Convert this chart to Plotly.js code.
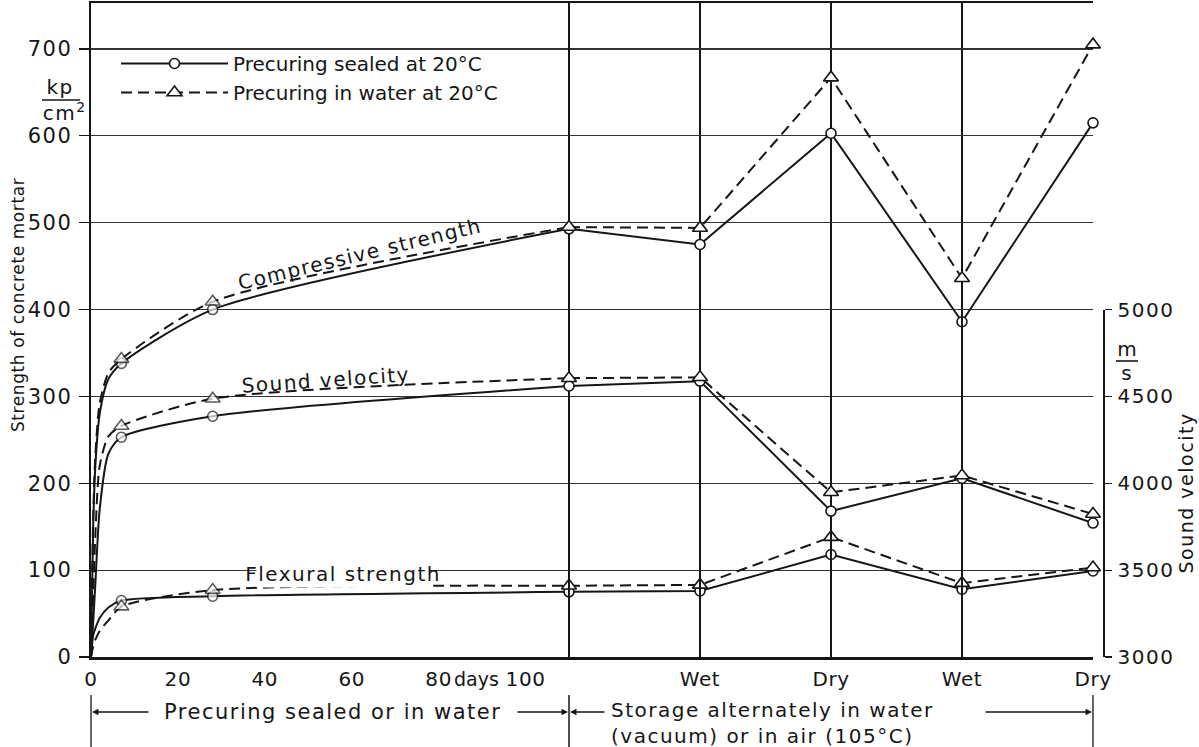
<!DOCTYPE html>
<html>
<head>
<meta charset="utf-8">
<script src="https://cdn.plot.ly/plotly-3.0.1.min.js"></script>
<style>
html,body{margin:0;padding:0;background:#fff;}
#chart{width:1199px;height:747px;}
#chart svg text{letter-spacing:1.5px;}
#chart .legend text{letter-spacing:0;}
#chart .xtick text, #chart .x2tick text{letter-spacing:0.6px;}
#chart .annotation[data-index="0"] text{letter-spacing:0.6px;}
#chart .annotation[data-index="6"] text{letter-spacing:0;}
</style>
</head>
<body>
<div id="chart"></div>
<script>
// ---------- data ----------
// Precuring phase (age in days)
const days = [0, 0.5, 1, 2, 4, 7, 28, 110];
const measuredDays = [7, 28];
const compSealedPre  = [0, 150, 220, 280, 320, 338, 400, 493];
const compWaterPre   = [0, 160, 232, 292, 327, 343, 409, 495];
const soundSealedPre = [3000, 3200, 3420, 3850, 4170, 4265, 4386, 4560];
const soundWaterPre  = [3000, 3350, 3700, 4100, 4270, 4330, 4487, 4605];
const flexSealedPre  = [0, 25, 33, 45, 57, 65, 70, 75];
const flexWaterPre   = [0, 12, 20, 30, 42, 58, 77, 82];

// Storage alternately wet / dry
const storageLabels   = ['Wet', 'Dry', 'Wet', 'Dry'];
const compSealedSto   = [475, 603, 386, 615];
const compWaterSto    = [494, 667, 436, 705];
const soundSealedSto  = [4588, 3840, 4029, 3771];
const soundWaterSto   = [4610, 3948, 4045, 3823];
const flexSealedSto   = [76, 118, 78, 99];
const flexWaterSto    = [83, 138, 85, 103];

const leftTicks = [0, 20, 40, 60, 80, 100];
const strengthTicks = [0, 100, 200, 300, 400, 500, 600, 700];
const soundTicks = [3000, 3500, 4000, 4500, 5000];

// ---------- geometry helpers (layout only) ----------
const L = 91, R = 89, T = 3, B = 90, W = 1199, H = 747;
const PW = W - L - R, PH = H - T - B;
const px = v => (v - L) / PW;
const py = v => (H - B - v) / PH;

const INK = '#161616';
const FONT = 'DejaVu Sans, Liberation Sans, sans-serif';

const sealedLine = {color: INK, width: 2};
const waterLine  = {color: INK, width: 2, dash: '11px,6px'};
const mkLineW = s => Array.isArray(s) ? s.map(v => v ? 1.6 : 0) : 1.6;
const circleMk = s => ({symbol: 'circle', size: s, color: '#fff', line: {color: INK, width: mkLineW(s)}});
const triMk    = s => ({symbol: 'triangle-up', size: s, color: '#fff', line: {color: INK, width: mkLineW(s)}});

const circSizes = days.map(d => measuredDays.includes(d) ? 10 : 0);
const triSizes  = days.map(d => measuredDays.includes(d) ? 13 : 0);
const stoX = [0].concat(storageLabels.map((_, i) => i + 1));

function pre(y, yaxis, sealed) {
  return {x: days, y: y, xaxis: 'x', yaxis: yaxis, type: 'scatter', mode: 'lines+markers',
    line: Object.assign({shape: 'spline', smoothing: 0.7}, sealed ? sealedLine : waterLine),
    marker: sealed ? circleMk(circSizes) : triMk(triSizes),
    showlegend: false, cliponaxis: false, hoverinfo: 'skip'};
}
function sto(pre, s, yaxis, sealed, legend) {
  return {x: stoX, y: [pre[pre.length - 1]].concat(s), xaxis: 'x2', yaxis: yaxis, type: 'scatter',
    mode: 'lines+markers', line: sealed ? sealedLine : waterLine,
    marker: sealed ? circleMk(10) : triMk(13),
    name: sealed ? 'Precuring sealed at 20°C' : 'Precuring in water at 20°C',
    showlegend: !!legend, cliponaxis: false, hoverinfo: 'skip'};
}

const data = [
  sto(compSealedPre, compSealedSto, 'y', true, true),
  sto(compWaterPre, compWaterSto, 'y', false, true),
  pre(compSealedPre, 'y', true), pre(compWaterPre, 'y', false),
  pre(flexSealedPre, 'y', true), pre(flexWaterPre, 'y', false),
  sto(flexSealedPre, flexSealedSto, 'y', true), sto(flexWaterPre, flexWaterSto, 'y', false),
  pre(soundSealedPre, 'y3', true), pre(soundWaterPre, 'y3', false),
  sto(soundSealedPre, soundSealedSto, 'y3', true), sto(soundWaterPre, soundWaterSto, 'y3', false)
];

const tickFont = {family: FONT, size: 20, color: INK};
const txt = (x, y, text, extra) => Object.assign({xref: 'paper', yref: 'paper', x: px(x), y: py(y), text: text,
  xanchor: 'center', yanchor: 'middle', showarrow: false, font: {family: FONT, size: 20, color: INK}}, extra || {});
const arrow = (head, tail, y) => ({xref: 'paper', yref: 'paper', x: px(head), y: py(y), text: '', xanchor: 'center', yanchor: 'middle',
  showarrow: true, ax: tail - head, ay: 0, arrowhead: 2, arrowsize: 1, arrowwidth: 1.3, arrowcolor: INK, standoff: 0, startstandoff: 0});

const layout = {
  width: W, height: H,
  margin: {l: L, r: R, t: T, b: B, pad: 0},
  paper_bgcolor: '#fff', plot_bgcolor: 'rgba(0,0,0,0)',
  font: {family: FONT, color: INK},
  showlegend: true,
  legend: {x: px(116), xanchor: 'left', y: py(44), yanchor: 'top', bgcolor: 'rgba(0,0,0,0)',
    font: {family: FONT, size: 20, color: INK}, itemwidth: 107, tracegroupgap: 0},
  xaxis: {domain: [0, px(569)], range: [0, days[days.length - 1]], anchor: 'y',
    showgrid: false, zeroline: false, showline: true, linecolor: INK, linewidth: 2.5, mirror: true,
    tickvals: leftTicks, ticktext: leftTicks.map(String), ticks: '', tickfont: tickFont, ticklabelstandoff: 2},
  xaxis2: {domain: [px(569), px(1093)], range: [0, storageLabels.length], anchor: 'y',
    showgrid: true, gridcolor: INK, gridwidth: 1.2, zeroline: true, zerolinecolor: INK, zerolinewidth: 2.5,
    showline: true, linecolor: INK, linewidth: 2.5, mirror: true,
    tickvals: storageLabels.map((_, i) => i + 1), ticktext: storageLabels, ticks: '', tickfont: tickFont, ticklabelstandoff: 2},
  yaxis: {domain: [0, 1], range: [0, (H - B - T) / (608 / 700)], anchor: 'x',
    showgrid: true, gridcolor: '#333', gridwidth: 1.1, zeroline: false,
    showline: true, linecolor: INK, linewidth: 2.5,
    tickvals: strengthTicks, ticks: 'outside', ticklen: 10, tickwidth: 1.2, tickcolor: INK,
    tickfont: {family: FONT, size: 21, color: INK}, ticklabelstandoff: 2},
  yaxis3: {domain: [0, 400 / ((H - B - T) / (608 / 700))], range: [3000, 5000], anchor: 'free', position: px(1103),
    side: 'right', showgrid: false, zeroline: false, showline: true, linecolor: INK, linewidth: 1.6,
    tickvals: soundTicks, ticks: 'outside', ticklen: 7, tickwidth: 1.2, tickcolor: INK,
    tickfont: {family: FONT, size: 20, color: INK}, ticklabelstandoff: 2},
  shapes: [
    {type: 'line', xref: 'paper', yref: 'paper', x0: px(42), x1: px(80), y0: py(100), y1: py(100), line: {color: INK, width: 1.6}},
    {type: 'line', xref: 'paper', yref: 'paper', x0: px(1116), x1: px(1138), y0: py(361), y1: py(361), line: {color: INK, width: 1.6}},
    {type: 'line', xref: 'paper', yref: 'paper', x0: px(91), x1: px(91), y0: py(695), y1: py(747), line: {color: INK, width: 1.3}},
    {type: 'line', xref: 'paper', yref: 'paper', x0: px(569), x1: px(569), y0: py(695), y1: py(747), line: {color: INK, width: 1.5}},
    {type: 'line', xref: 'paper', yref: 'paper', x0: px(1093), x1: px(1093), y0: py(695), y1: py(747), line: {color: INK, width: 1.3}}
  ],
  annotations: [
    txt(18, 305, 'Strength of concrete mortar', {textangle: -90, font: {family: FONT, size: 17, color: INK}}),
    txt(1186, 493, 'Sound velocity', {textangle: -90, font: {family: FONT, size: 19, color: INK}}),
    txt(60, 87, 'kp'),
    txt(64, 112, 'cm<sup>2</sup>'),
    txt(1127, 349, 'm'),
    txt(1127, 373, 's'),
    txt(476, 679, 'days', {font: {family: FONT, size: 19, color: INK}}),
    {xref: 'x', yref: 'y', x: 62, y: 464, text: 'Compressive strength', textangle: -13.5, showarrow: false,
      xanchor: 'center', yanchor: 'middle', font: {family: FONT, size: 20, color: INK}},
    {xref: 'x', yref: 'y', x: 54, y: 319, text: 'Sound velocity', textangle: -4, showarrow: false,
      xanchor: 'center', yanchor: 'middle', font: {family: FONT, size: 20, color: INK}},
    {xref: 'x', yref: 'y', x: 58, y: 95, text: 'Flexural strength', showarrow: false, bgcolor: '#fff',
      xanchor: 'center', yanchor: 'middle', font: {family: FONT, size: 20, color: INK}},
    txt(333, 712, 'Precuring sealed or in water', {font: {family: FONT, size: 21, color: INK}}),
    txt(609, 723, 'Storage alternately in water<br>(vacuum) or in air (105°C)', {xanchor: 'left', align: 'left'}),
    arrow(92, 150, 712),
    arrow(568, 516, 712),
    arrow(570, 606, 712),
    arrow(1092, 984, 712)
  ]
};

Plotly.newPlot('chart', data, layout, {staticPlot: true, displayModeBar: false});
</script>
</body>
</html>
